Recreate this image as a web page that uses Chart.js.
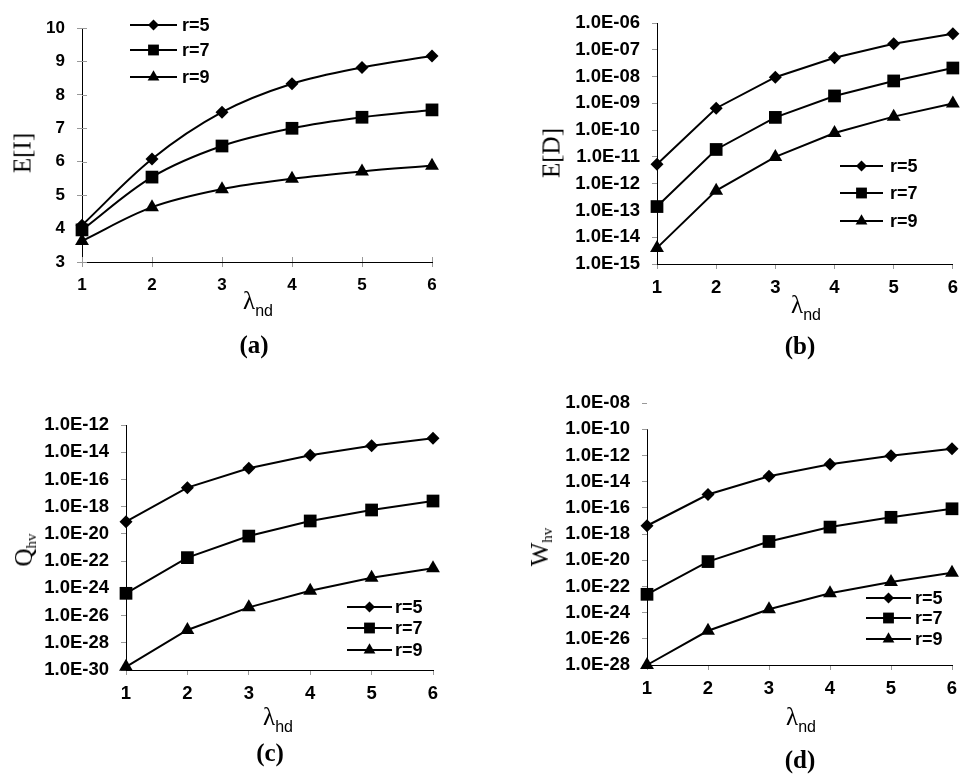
<!DOCTYPE html>
<html>
<head>
<meta charset="utf-8">
<title>E[I], E[D], Qhv, Whv vs lambda</title>
<script src="https://cdn.jsdelivr.net/npm/chart.js@4.4.0/dist/chart.umd.min.js"></script>
<style>
  body { margin: 0; background: #fff; width: 966px; height: 774px; position: relative; overflow: hidden; }
  canvas { position: absolute; }
  .lbl { position: absolute; transform: translate(-50%, -50%); white-space: nowrap; color: #000; line-height: 1; }
  .ytitle { transform: translate(-50%, -50%) rotate(-90deg); font-family: "Liberation Serif", serif; font-size: 25px; }
  .ytitle sub { font-size: 15px; vertical-align: -4px; }
  .xtitle { font-family: "Liberation Serif", serif; font-size: 25px; }
  .xtitle sub { font-family: "Liberation Sans", Arial, sans-serif; font-size: 16px; vertical-align: -7px; }
  .tag { font-family: "Liberation Serif", serif; font-weight: bold; font-size: 25px; }
</style>
</head>
<body>
<canvas id="chart-a" width="470" height="310" style="left:0px;top:0px"></canvas>
<canvas id="chart-b" width="406" height="310" style="left:560px;top:0px"></canvas>
<canvas id="chart-c" width="440" height="320" style="left:30px;top:400px"></canvas>
<canvas id="chart-d" width="416" height="340" style="left:550px;top:380px"></canvas>

<div class="lbl ytitle" style="left:22px;top:153px">E[I]</div>
<div class="lbl xtitle" style="left:258px;top:303px">λ<sub>nd</sub></div>
<div class="lbl tag" style="left:254px;top:344px">(a)</div>

<div class="lbl ytitle" style="left:551px;top:153px">E[D]</div>
<div class="lbl xtitle" style="left:806px;top:307px">λ<sub>nd</sub></div>
<div class="lbl tag" style="left:800px;top:345px">(b)</div>

<div class="lbl ytitle" style="left:25px;top:550px">Q<sub>hv</sub></div>
<div class="lbl xtitle" style="left:278px;top:719px">λ<sub>hd</sub></div>
<div class="lbl tag" style="left:270px;top:752px">(c)</div>

<div class="lbl ytitle" style="left:541px;top:547px">W<sub>hv</sub></div>
<div class="lbl xtitle" style="left:801px;top:719px">λ<sub>nd</sub></div>
<div class="lbl tag" style="left:800px;top:759px">(d)</div>

<script>
// values
const xLabels = ["1", "2", "3", "4", "5", "6"];
const seriesNames = ["r=5", "r=7", "r=9"];

// (a) E[I]
const eI_r5 = [4.1, 6.08, 7.48, 8.33, 8.82, 9.16];
const eI_r7 = [3.96, 5.54, 6.47, 7.0, 7.33, 7.55];
const eI_r9 = [3.63, 4.64, 5.18, 5.49, 5.71, 5.88];
const eITicks = ["3", "4", "5", "6", "7", "8", "9", "10"];

// (b) E[D]
const eD_r5 = [5.3e-12, 6.6e-10, 9.5e-9, 5.1e-8, 1.7e-7, 4.0e-7];
const eD_r7 = [1.4e-13, 1.9e-11, 3.0e-10, 1.9e-9, 6.9e-9, 2.1e-8];
const eD_r9 = [4.0e-15, 5.5e-13, 1.0e-11, 7.8e-11, 3.2e-10, 1.0e-9];
const eDTicks = ["1.0E-06", "1.0E-07", "1.0E-08", "1.0E-09", "1.0E-10",
  "1.0E-11", "1.0E-12", "1.0E-13", "1.0E-14", "1.0E-15"];

// (c) Qhv
const qhv_r5 = [7.9e-20, 2.5e-17, 6.6e-16, 5.9e-15, 3.0e-14, 1.05e-13];
const qhv_r7 = [4.3e-25, 1.8e-22, 6.9e-21, 8.9e-20, 5.7e-19, 2.6e-18];
const qhv_r9 = [1.7e-30, 8.7e-28, 4.0e-26, 6.7e-25, 6.0e-24, 3.0e-23];
const qhvTicks = ["1.0E-12", "1.0E-14", "1.0E-16", "1.0E-18", "1.0E-20",
  "1.0E-22", "1.0E-24", "1.0E-26", "1.0E-28", "1.0E-30"];

// (d) Whv
const whv_r5 = [4.3e-18, 1.05e-15, 2.6e-14, 2.1e-13, 9.5e-13, 3.3e-12];
const whv_r7 = [2.5e-23, 7.9e-21, 2.7e-19, 3.4e-18, 1.9e-17, 8.5e-17];
const whv_r9 = [1.0e-28, 4.1e-26, 1.8e-24, 3.0e-23, 2.2e-22, 1.1e-21];
const whvTicks = ["1.0E-08", "1.0E-10", "1.0E-12", "1.0E-14", "1.0E-16", "1.0E-18",
  "1.0E-20", "1.0E-22", "1.0E-24", "1.0E-26", "1.0E-28"];

const FONT_FAMILY = "'Liberation Sans', Arial, sans-serif";
const markerStyles = [
  { pointStyle: "rectRot", pointRadius: 6.5 },
  { pointStyle: "rect", pointRadius: 9 },
  { pointStyle: "triangle", pointRadius: 8 },
];

function drawMarker(ctx, style, r, x, y) {
  ctx.beginPath();
  if (style === "rectRot") {
    ctx.moveTo(x, y - r); ctx.lineTo(x + r, y); ctx.lineTo(x, y + r); ctx.lineTo(x - r, y);
  } else if (style === "rect") {
    const s = r * Math.SQRT1_2;
    ctx.rect(x - s, y - s, 2 * s, 2 * s);
  } else {
    ctx.moveTo(x, y - r);
    ctx.lineTo(x + r * 0.866, y + r * 0.5);
    ctx.lineTo(x - r * 0.866, y + r * 0.5);
  }
  ctx.closePath();
  ctx.fill();
}

// legend drawn inside the plot, Excel style (line with marker in the middle)
const insideLegend = {
  id: "insideLegend",
  afterDraw(chart, args, opts) {
    if (!opts || opts.rows === undefined) return;
    const ctx = chart.ctx;
    ctx.save();
    ctx.strokeStyle = "#000";
    ctx.fillStyle = "#000";
    ctx.lineWidth = 2;
    ctx.font = "bold 18px " + FONT_FAMILY;
    ctx.textBaseline = "middle";
    chart.data.datasets.forEach((ds, i) => {
      const y = opts.rows[i];
      ctx.beginPath();
      ctx.moveTo(opts.x, y);
      ctx.lineTo(opts.x + opts.len, y);
      ctx.stroke();
      drawMarker(ctx, ds.pointStyle, ds.pointRadius * 0.85, opts.x + opts.len / 2, y);
      ctx.fillText(ds.label, opts.textX, y + 1);
    });
    ctx.restore();
  },
};

// extra pieces of the axes: ticks crossing into the plot, short y axis line
const axisExtras = {
  id: "axisExtras",
  beforeDatasetsDraw(chart, args, opts) {
    if (!opts) return;
    const ctx = chart.ctx;
    const area = chart.chartArea;
    ctx.save();
    if (opts.crossTicks) {
      ctx.strokeStyle = "#999";
      ctx.lineWidth = 1;
      const xs = chart.scales.x, ys = chart.scales.y;
      xs.ticks.forEach((t, i) => {
        const px = Math.round(xs.getPixelForTick(i)) + 0.5;
        ctx.beginPath(); ctx.moveTo(px, area.bottom); ctx.lineTo(px, area.bottom - 5); ctx.stroke();
      });
      ys.ticks.forEach((t, i) => {
        const py = Math.round(ys.getPixelForTick(i)) + 0.5;
        ctx.beginPath(); ctx.moveTo(area.left, py); ctx.lineTo(area.left + 5, py); ctx.stroke();
      });
    }
    if (opts.yLineFrom !== undefined) {
      const top = chart.scales.y.getPixelForValue(opts.yLineFrom);
      ctx.strokeStyle = "#000";
      ctx.lineWidth = 1;
      ctx.beginPath();
      ctx.moveTo(Math.round(area.left) + 0.5, top);
      ctx.lineTo(Math.round(area.left) + 0.5, area.bottom);
      ctx.stroke();
    }
    ctx.restore();
  },
};

function makeDatasets(seriesList, tension) {
  return seriesList.map((values, i) => ({
    label: seriesNames[i],
    data: values,
    borderColor: "#000",
    borderWidth: 2,
    backgroundColor: "#000",
    pointBackgroundColor: "#000",
    pointBorderColor: "#000",
    pointBorderWidth: 0,
    pointStyle: markerStyles[i].pointStyle,
    pointRadius: markerStyles[i].pointRadius,
    tension: tension,
    clip: false,
  }));
}

function buildChart(id, cfg) {
  const tickValues = cfg.ticks.map((s) => Number(s));
  const tickFont = { family: FONT_FAMILY, size: cfg.fontSize, weight: "bold" };
  return new Chart(document.getElementById(id).getContext("2d"), {
    type: "line",
    data: {
      labels: xLabels,
      datasets: makeDatasets(cfg.series, cfg.tension || 0),
    },
    options: {
      responsive: false,
      animation: false,
      devicePixelRatio: 1,
      layout: { autoPadding: false, padding: cfg.padding },
      plugins: {
        legend: { display: false },
        tooltip: { enabled: false },
        insideLegend: cfg.legend,
        axisExtras: cfg.extras || {},
      },
      scales: {
        x: {
          type: "category",
          offset: false,
          afterFit: (scale) => { scale.height = 40; },
          border: { display: true, color: "#000", width: 1 },
          grid: { display: true, drawOnChartArea: false, drawTicks: true, tickLength: 5, color: "#999", offset: false },
          ticks: { color: "#000", font: tickFont, padding: 8, maxRotation: 0, autoSkip: false },
        },
        y: {
          type: cfg.logScale ? "logarithmic" : "linear",
          min: Math.min(...tickValues),
          max: Math.max(...tickValues),
          afterFit: (scale) => { scale.width = cfg.yWidth; },
          afterBuildTicks: (scale) => {
            scale.ticks = tickValues.map((v) => ({ value: v }));
          },
          border: { display: !cfg.hideYBorder, color: "#000", width: 1 },
          grid: { display: true, drawOnChartArea: false, drawTicks: true, tickLength: 5, color: "#999" },
          ticks: {
            color: "#000",
            font: tickFont,
            padding: 12,
            autoSkip: false,
            callback: (value, index) => cfg.ticks[index],
          },
        },
      },
    },
    plugins: [insideLegend, axisExtras],
  });
}

buildChart("chart-a", {
  series: [eI_r5, eI_r7, eI_r9],
  ticks: eITicks,
  logScale: false,
  tension: 0.35,
  fontSize: 17,
  padding: { top: 28, right: 38, left: 0, bottom: 8 },
  yWidth: 82,
  legend: { x: 130, len: 47, textX: 182, rows: [25, 50, 77] },
  extras: { crossTicks: true },
});

buildChart("chart-b", {
  series: [eD_r5, eD_r7, eD_r9],
  ticks: eDTicks,
  logScale: true,
  fontSize: 18.5,
  padding: { top: 21, right: 6, left: 0, bottom: 6 },
  yWidth: 97,
  legend: { x: 280, len: 43, textX: 330, rows: [166, 193, 221] },
});

buildChart("chart-c", {
  series: [qhv_r5, qhv_r7, qhv_r9],
  ticks: qhvTicks,
  logScale: true,
  fontSize: 18.5,
  padding: { top: 25, right: 37, left: 0, bottom: 10 },
  yWidth: 96,
  legend: { x: 317, len: 45, textX: 365, rows: [207, 228, 250] },
});

buildChart("chart-d", {
  series: [whv_r5, whv_r7, whv_r9],
  ticks: whvTicks,
  logScale: true,
  fontSize: 18.5,
  padding: { top: 17, right: 14, left: 0, bottom: 15 },
  yWidth: 97,
  hideYBorder: true,
  legend: { x: 316, len: 45, textX: 365, rows: [218, 238, 259] },
  extras: { yLineFrom: Number(whvTicks[1]) },
});
</script>
</body>
</html>
